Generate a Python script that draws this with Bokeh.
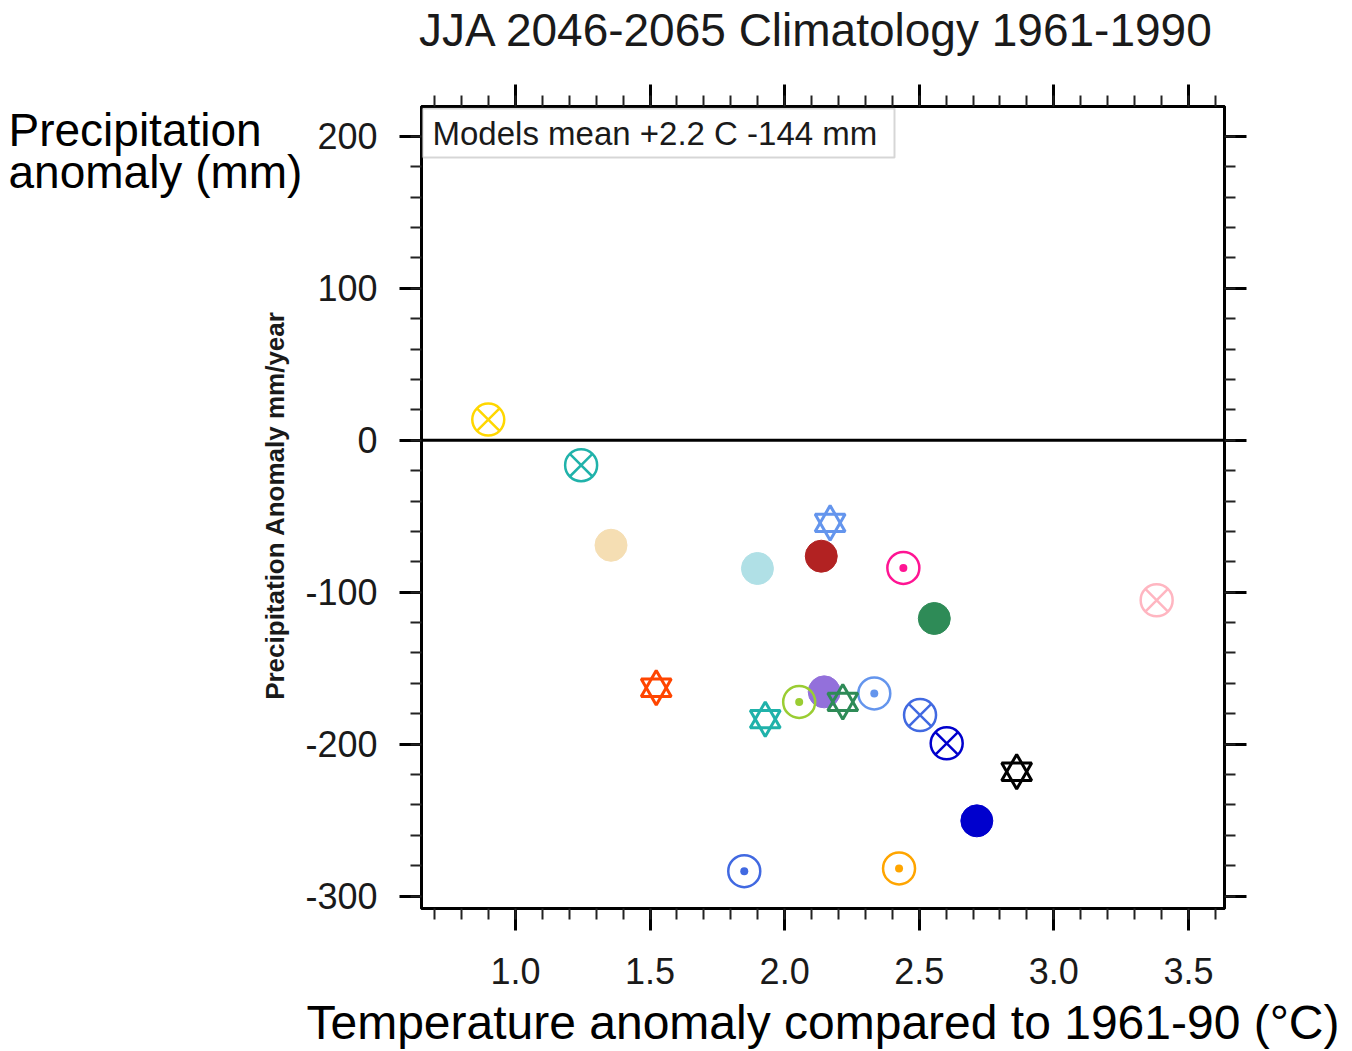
import math
from bokeh.plotting import figure
from bokeh.layouts import row
from bokeh.core.properties import value
from bokeh.models import (LinearAxis, SingleIntervalTicker, Span, Label, BoxAnnotation,
                          CustomJSTickFormatter, Range1d, ColumnDataSource)
from bokeh.embed import file_html
from bokeh.resources import INLINE

# ---------------- data ----------------
temp_anom = [0.899, 1.244, 1.355, 1.899, 2.169, 2.136, 2.441, 2.556, 3.382,
             1.523, 1.928, 2.054, 2.147, 2.216, 2.333, 2.503, 2.602, 2.862,
             2.714, 2.425, 1.850]
precip_anom = [13.6, -16.4, -69.1, -84.4, -54.4, -76.3, -84.0, -117.3, -105.3,
               -162.9, -183.6, -172.2, -165.6, -172.2, -166.6, -180.9, -199.5, -218.2,
               -250.5, -281.8, -283.6]
marker_kind = ["circle_x", "circle_x", "circle", "circle", "hexagram", "circle", "circle_dot",
               "circle", "circle_x", "hexagram", "hexagram", "circle_dot", "circle", "hexagram",
               "circle_dot", "circle_x", "circle_x", "hexagram", "circle", "circle_dot", "circle_dot"]
marker_color = ["#FFD700", "#20B2AA", "#F5DEB3", "#B0E0E6", "#6495ED", "#B22222", "#FF1493",
                "#2E8B57", "#FFB6C1", "#FF4500", "#20B2AA", "#9ACD32", "#9370DB", "#2E8B57",
                "#6495ED", "#4169E1", "#0000CD", "#000000", "#0000CD", "#FFA500", "#4169E1"]

x_ticks_major = 0.5
y_ticks_major = 100
title_text = "JJA 2046-2065  Climatology 1961-1990"
legend_text = "Models mean +2.2 C  -144 mm"
y_axis_text = "Precipitation Anomaly mm/year"
left_text = ["Precipitation", "anomaly (mm)"]
bottom_text = "Temperature anomaly compared to 1961-90 (°C)"

# ---------------- layout ----------------
W, H = 1352, 1051
LW = 302                                      # width of the left text panel
FL, FR, FT, FB = 421, 1224, 106, 908          # frame edges in page pixels
X0, X1 = 0.651, 3.634
Y0, Y1 = -308.2, 219.7
FONT = "Liberation Sans"


def dx(px):
    return X0 + (px - FL) / (FR - FL) * (X1 - X0)


def dy(py):
    return Y1 - (py - FT) / (FB - FT) * (Y1 - Y0)


# ---------- left panel holding the free texts ----------
left = figure(frame_width=LW, frame_height=FB - FT, x_range=Range1d(0, LW),
              y_range=Range1d(Y0, Y1), x_axis_type=None, y_axis_type=None,
              min_border_left=0, min_border_right=0, min_border_top=FT,
              min_border_bottom=H - FB, toolbar_location=None, title=None,
              output_backend="svg", background_fill_color="white",
              border_fill_color="white")
left.outline_line_color = None
left.grid.visible = False
left.text(x=[8, 8], y=[dy(129), dy(171)], text=left_text, text_font=value(FONT),
          text_font_size="46px", text_baseline="middle", text_align="left",
          text_color="black")
left.text(x=[274], y=[dy(505)], text=[y_axis_text], text_font=value(FONT),
          text_font_style="bold", text_font_size="26px", angle=math.pi / 2,
          text_baseline="alphabetic", text_align="center", text_color="#1a1a1a")

# ---------- main plot ----------
p = figure(frame_width=FR - FL, frame_height=FB - FT, x_range=Range1d(X0, X1),
           y_range=Range1d(Y0, Y1),
           min_border_left=FL - LW, min_border_right=W - FR, min_border_top=FT,
           min_border_bottom=H - FB, output_backend="svg", toolbar_location=None,
           title=None, background_fill_color="white", border_fill_color="white")
p.grid.visible = False
p.outline_line_color = "black"
p.outline_line_width = 3

tick_font_size = "36px"


def style_axis(ax, labels=True):
    ax.axis_line_width = 3
    ax.axis_line_color = "black"
    ax.major_tick_in = 0
    ax.major_tick_out = 22
    ax.minor_tick_in = 0
    ax.minor_tick_out = 11
    ax.major_tick_line_width = 3
    ax.minor_tick_line_width = 2
    ax.major_tick_line_color = "black"
    ax.minor_tick_line_color = "#222222"
    ax.major_label_text_font = FONT
    ax.major_label_text_font_size = tick_font_size
    ax.major_label_text_color = "#1a1a1a"
    if not labels:
        ax.formatter = CustomJSTickFormatter(code="return ''")
        ax.major_label_standoff = 0


p.xaxis.ticker = SingleIntervalTicker(interval=x_ticks_major, num_minor_ticks=5)
p.yaxis.ticker = SingleIntervalTicker(interval=y_ticks_major, num_minor_ticks=5)
style_axis(p.xaxis[0])
style_axis(p.yaxis[0])
p.xaxis.formatter = CustomJSTickFormatter(code="return tick.toFixed(1)")
p.yaxis.formatter = CustomJSTickFormatter(code="return tick.toFixed(0)")
p.xaxis.major_label_standoff = 27
p.yaxis.major_label_standoff = 22

p.xaxis.axis_label = bottom_text
p.xaxis.axis_label_text_font = FONT
p.xaxis.axis_label_text_font_style = "normal"
p.xaxis.axis_label_text_font_size = "48px"
p.xaxis.axis_label_text_color = "black"
p.xaxis.axis_label_standoff = 9

top_ax = LinearAxis(ticker=SingleIntervalTicker(interval=x_ticks_major, num_minor_ticks=5))
right_ax = LinearAxis(ticker=SingleIntervalTicker(interval=y_ticks_major, num_minor_ticks=5))
style_axis(top_ax, labels=False)
style_axis(right_ax, labels=False)
# the chart title is carried by the top axis label
top_ax.axis_label = title_text
top_ax.axis_label_text_font = FONT
top_ax.axis_label_text_font_style = "normal"
top_ax.axis_label_text_font_size = "46px"
top_ax.axis_label_text_color = "#1a1a1a"
top_ax.axis_label_standoff = 29
p.add_layout(top_ax, "above")
p.add_layout(right_ax, "right")

# zero line
p.add_layout(Span(location=0, dimension="width", line_color="black", line_width=3))


# ---------------- markers ----------------
def subset(kind):
    idx = [i for i, k in enumerate(marker_kind) if k == kind]
    return ColumnDataSource(dict(x=[temp_anom[i] for i in idx],
                                 y=[precip_anom[i] for i in idx],
                                 c=[marker_color[i] for i in idx]))


src_fill = subset("circle")
p.scatter("x", "y", source=src_fill, marker="circle", size=32,
          fill_color="c", line_color="c", line_width=1)

src_cx = subset("circle_x")
p.scatter("x", "y", source=src_cx, marker="circle_x", size=32,
          fill_alpha=0, line_color="c", line_width=2.5)

src_cd = subset("circle_dot")
p.scatter("x", "y", source=src_cd, marker="circle_dot", size=32,
          fill_alpha=0, line_color="c", line_width=2.5)

src_hx = subset("hexagram")
p.scatter("x", "y", source=src_hx, marker="triangle", size=30,
          fill_alpha=0, line_color="c", line_width=3)
p.scatter("x", "y", source=src_hx, marker="inverted_triangle", size=30,
          fill_alpha=0, line_color="c", line_width=3)

# ---------------- legend-like box ----------------
p.add_layout(BoxAnnotation(left=dx(422), right=dx(894), top=dy(108), bottom=dy(157),
                           fill_color="white", fill_alpha=1, line_color="#777777",
                           line_width=2))
p.add_layout(Label(x=dx(432), y=dy(132.5), text=legend_text, text_font=FONT,
                   text_font_size="33px", text_baseline="middle", text_align="left",
                   text_color="#1a1a1a"))

layout = row(left, p, spacing=0)
open("out.html", "w").write(file_html(layout, INLINE))
